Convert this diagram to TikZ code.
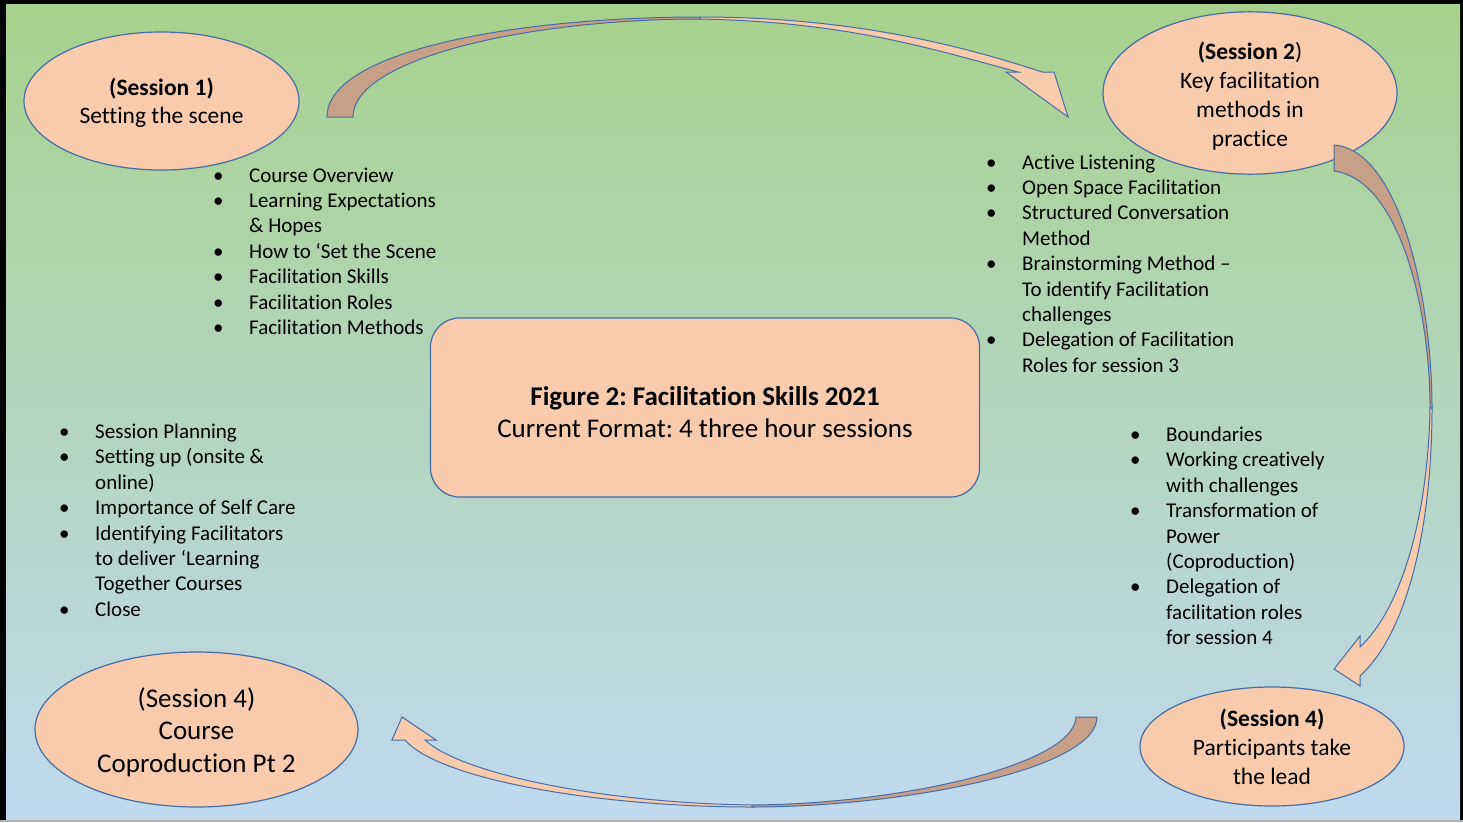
\documentclass[tikz,border=0pt]{standalone}
\usepackage{fontspec}
\setmainfont{Carlito}[Ligatures=NoCommon]
\usetikzlibrary{shapes.geometric}
\definecolor{peach}{RGB}{248,203,173}
\definecolor{tailbrown}{RGB}{200,160,136}
\definecolor{edgeblue}{RGB}{68,108,166}
\definecolor{bgtop}{RGB}{168,209,141}
\definecolor{bgmid}{RGB}{174,210,204}
\definecolor{bgbot}{RGB}{192,217,239}
\newcommand{\lbul}{\makebox[36pt][l]{\textbullet}}
\newcommand{\lind}{\hspace*{36pt}}
\newcommand{\listfont}{\fontsize{21}{25.4}\selectfont}
\frenchspacing
\begin{document}
\begin{tikzpicture}[x=1pt,y=-1pt,
  session/.style={ellipse, draw=edgeblue, line width=1.2pt, fill=peach, inner sep=0pt, align=center},
  centerbox/.style={rectangle, rounded corners=29pt, draw=edgeblue, line width=1.2pt, fill=peach, inner sep=0pt, minimum width=549pt, minimum height=179pt},
  listnode/.style={anchor=base west, inner sep=0pt},
  arrowback/.style={fill=tailbrown, draw=edgeblue, line width=1pt, line join=round},
  arrowfront/.style={fill=peach, draw=edgeblue, line width=1pt, line join=miter}]

% frame and background
\fill[black] (0,0) rectangle (1463,822);
\shade[top color=bgtop, middle color=bgmid, bottom color=bgbot] (6,4) rectangle (1460,820);
\fill[gray!60] (0,820) rectangle (1463,822);
\useasboundingbox (0,0) rectangle (1463,822);

% session ellipses
\node[session, minimum width=275pt, minimum height=138pt, font=\fontsize{23.5}{28}\selectfont] (s1) at (161.5,101) {\rule{0pt}{21.5pt}\textbf{(Session 1)}\\Setting the scene};
\node[session, minimum width=294pt, minimum height=124pt, font=\fontsize{23.5}{29}\selectfont] (s2) at (1250,93) {\rule{0pt}{24pt}\textbf{(Session 2})\\Key facilitation\\methods in\\practice};
\node[session, minimum width=264pt, minimum height=119pt, font=\fontsize{23.5}{29}\selectfont] (s4r) at (1272,746.5) {\textbf{(Session 4)}\\Participants take\\the lead};
\node[session, minimum width=323pt, minimum height=155pt, font=\fontsize{27}{32.5}\selectfont] (s4l) at (196.5,729.5) {\rule{0pt}{25pt}(Session 4)\\Course\\Coproduction Pt 2};

% centre box
\node[centerbox] (box) at (705,407.5) {};
\node[align=center, inner sep=0pt, font=\fontsize{27}{32}\selectfont] (title) at (705,412) {\textbf{Figure 2: Facilitation Skills 2021}\\Current Format: 4 three hour sessions};

% lists
\node[listnode] (l1) at (213,182) {\parbox[t]{300pt}{\listfont
\lbul Course Overview\\
\lbul Learning Expectations\\
\lind \& Hopes\\
\lbul How to ‘Set the Scene\\
\lbul Facilitation Skills\\
\lbul Facilitation Roles\\
\lbul Facilitation Methods}};

\node[listnode] (l2) at (986,169) {\parbox[t]{300pt}{\listfont
\lbul Active Listening\\
\lbul Open Space Facilitation\\
\lbul Structured Conversation\\
\lind Method\\
\lbul Brainstorming Method –\\
\lind To identify Facilitation\\
\lind challenges\\
\lbul Delegation of Facilitation\\
\lind Roles for session 3}};

\node[listnode] (l3) at (59,438.5) {\parbox[t]{300pt}{\listfont
\lbul Session Planning\\
\lbul Setting up (onsite \&\\
\lind online)\\
\lbul Importance of Self Care\\
\lbul Identifying Facilitators\\
\lind to deliver ‘Learning\\
\lind Together Courses\\
\lbul Close}};

\node[listnode] (l4) at (1130,441.5) {\parbox[t]{300pt}{\listfont
\lbul Boundaries\\
\lbul Working creatively\\
\lind with challenges\\
\lbul Transformation of\\
\lind Power\\
\lind (Coproduction)\\
\lbul Delegation of\\
\lind facilitation roles\\
\lind for session 4}};

% curved arrows
% top: session 1 -> session 2
\coordinate (ta) at (327,117);
\coordinate (tb) at (353,117);
\coordinate (tp) at (700,17);
\coordinate (tq) at (700,19);
\path[arrowback] (ta) .. controls (327,50) and (520,17) .. (tp) -- (tq) .. controls (530,19) and (353,58) .. (tb) -- cycle;
\path[arrowfront] (tp) .. controls (850,17) and (960,45) .. (1042,72) -- (1054,72) -- (1068,117) -- (1006,72) -- (1018,72) .. controls (935,50) and (850,22) .. (tq) -- cycle;

% right: session 2 -> session 4 (right)
\coordinate (ra) at (1334,145);
\coordinate (rb) at (1334,171);
\coordinate (rp) at (1432,408);
\coordinate (rq) at (1430,408);
\path[arrowback] (ra) .. controls (1400,150) and (1432,300) .. (rp) -- (rq) .. controls (1430,310) and (1400,180) .. (rb) -- cycle;
\path[arrowfront] (rp) .. controls (1432,520) and (1410,630) .. (1360,676) -- (1360,686) -- (1334,669) -- (1360,636) -- (1360,647) .. controls (1400,610) and (1428,520) .. (rq) -- cycle;

% bottom: session 4 (right) -> session 4 (left)
\coordinate (ba) at (1097,717);
\coordinate (bb) at (1076,717);
\coordinate (bp) at (752,807);
\coordinate (bq) at (752,805);
\path[arrowback] (ba) .. controls (1097,770) and (900,807) .. (bp) -- (bq) .. controls (900,804) and (1074,765) .. (bb) -- cycle;
\path[arrowfront] (bp) .. controls (600,807) and (440,780) .. (405,740) -- (392,740) -- (402,717) -- (436,740) -- (425,740) .. controls (460,773) and (600,803) .. (bq) -- cycle;
\end{tikzpicture}
\end{document}
